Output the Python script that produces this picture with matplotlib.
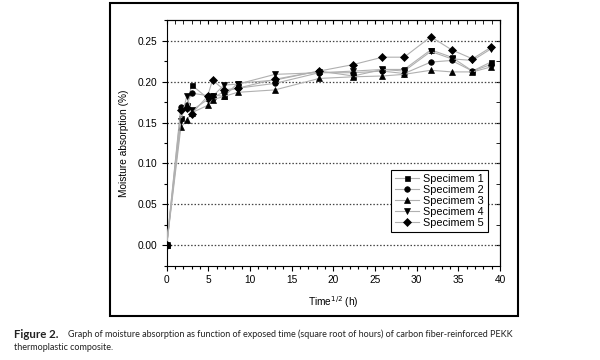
import matplotlib
matplotlib.use("Agg")
import matplotlib.pyplot as plt
from matplotlib.patches import Rectangle
from matplotlib.ticker import MultipleLocator

# square root of exposure time (h^1/2)
time_sqrt = [0, 1.7, 2.4, 3.0, 4.9, 5.5, 6.9, 8.5, 13.0, 18.3, 22.4, 25.9, 28.5, 31.7, 34.2, 36.7, 38.9]

spec1 = [0, 0.156, 0.171, 0.196, 0.180, 0.184, 0.182, 0.198, 0.202, 0.213, 0.207, 0.215, 0.215, 0.239, 0.230, 0.213, 0.224]
spec2 = [0, 0.169, 0.172, 0.186, 0.183, 0.180, 0.188, 0.192, 0.198, 0.211, 0.211, 0.213, 0.210, 0.224, 0.226, 0.213, 0.221]
spec3 = [0, 0.144, 0.153, 0.162, 0.171, 0.178, 0.182, 0.187, 0.190, 0.204, 0.206, 0.207, 0.209, 0.214, 0.212, 0.212, 0.218]
spec4 = [0, 0.152, 0.182, 0.165, 0.178, 0.182, 0.196, 0.197, 0.209, 0.211, 0.213, 0.215, 0.213, 0.237, 0.228, 0.226, 0.240]
spec5 = [0, 0.165, 0.168, 0.161, 0.182, 0.202, 0.190, 0.192, 0.203, 0.213, 0.221, 0.230, 0.230, 0.255, 0.239, 0.228, 0.242]

labels = ["Specimem 1", "Specimem 2", "Specimem 3", "Specimem 4", "Specimem 5"]
markers = ["s", "o", "^", "v", "D"]
sizes = [3.6, 4, 4, 4, 3.6]

plt.rcParams["font.family"] = ["Liberation Sans", "DejaVu Sans"]

fig = plt.figure(figsize=(6, 3.6), dpi=100)
ax = fig.add_axes([0.2778, 0.262, 0.5555, 0.6825])

for data, lab, m, s in zip([spec1, spec2, spec3, spec4, spec5], labels, markers, sizes):
    ax.plot(time_sqrt, data, color="#b0b0b0", lw=0.8, marker=m, ms=s,
            mfc="black", mec="black", mew=0.5, label=lab, zorder=3)

ax.set_xlim(0, 40)
ax.set_ylim(-0.025, 0.2755)
ax.xaxis.set_major_locator(MultipleLocator(5))
ax.xaxis.set_minor_locator(MultipleLocator(1))
ax.yaxis.set_major_locator(MultipleLocator(0.05))
ax.yaxis.set_minor_locator(MultipleLocator(0.025))
ax.yaxis.set_major_formatter(matplotlib.ticker.FormatStrFormatter("%.2f"))
ax.tick_params(which="both", direction="out", labelsize=7.3, width=0.8, color="black")
ax.tick_params(which="major", length=3.5)
ax.tick_params(which="minor", length=2)

top = ax.secondary_xaxis("top")
top.xaxis.set_major_locator(MultipleLocator(5))
top.xaxis.set_minor_locator(MultipleLocator(1))
top.tick_params(which="both", direction="in", labeltop=False, length=3)
right = ax.secondary_yaxis("right")
right.yaxis.set_major_locator(MultipleLocator(0.05))
right.yaxis.set_minor_locator(MultipleLocator(0.025))
right.tick_params(which="both", direction="in", labelright=False, length=3)

ax.grid(axis="y", which="major", linestyle=(0, (1.2, 1.5)), color="#444444", lw=0.9)
for sp in ax.spines.values():
    sp.set_linewidth(0.8)

ax.set_xlabel("Time$^{1/2}$ (h)", fontsize=7.3, labelpad=6)
ax.set_ylabel("Moisture absorption (%)", fontsize=7.3, labelpad=6)

leg = ax.legend(loc="lower right", bbox_to_anchor=(0.98, 0.115), fontsize=7.8,
                frameon=True, fancybox=False, edgecolor="black", framealpha=1,
                handlelength=2.2, handletextpad=0.4, borderpad=0.35, labelspacing=0.1)
leg.get_frame().set_linewidth(0.8)

# frame around the figure panel
fig.patches.append(Rectangle((0.1833, 0.1222), 0.68, 0.8695, transform=fig.transFigure,
                             fill=False, edgecolor="black", lw=1.5))

cap_font = ["Lato", "DejaVu Sans"]
fig.text(0.023, 1 - 334 / 360, "Figure 2.", fontsize=8.3, fontweight="bold",
         family=cap_font, va="center", color="#222222")
fig.text(0.113, 1 - 334 / 360,
         "Graph of moisture absorption as function of exposed time (square root of hours) of carbon fiber-reinforced PEKK",
         fontsize=6.5, family=cap_font, va="center", color="#222222")
fig.text(0.023, 1 - 348 / 360, "thermoplastic composite.", fontsize=6.5,
         family=cap_font, va="center", color="#222222")

fig.savefig("out.png", dpi=100)
